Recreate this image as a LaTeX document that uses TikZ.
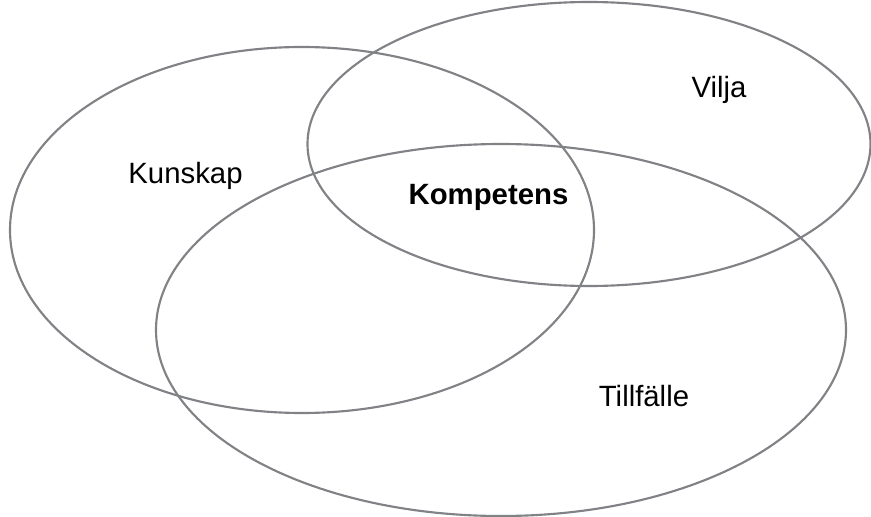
\documentclass[tikz,border=0pt]{standalone}
\usepackage{fontspec}
\setmainfont{Liberation Sans}
\definecolor{ringgray}{RGB}{128,130,134}
\begin{document}
\begin{tikzpicture}[x=0.75pt,y=-0.75pt,
  ring/.style={draw=ringgray,line width=1.6pt},
  lbl/.style={font=\fontsize{22}{24}\selectfont,inner sep=0pt}]
\useasboundingbox (0,0) rectangle (871,517);
\draw[ring] (302,230) ellipse [x radius=292, y radius=183];
\draw[ring] (589,144) ellipse [x radius=281.5, y radius=142];
\draw[ring] (501,330) ellipse [x radius=345, y radius=186];
\node[lbl] (kunskap) at (185.5,176) {Kunskap};
\node[lbl,font=\fontsize{22}{24}\selectfont\bfseries] (kompetens) at (488.5,197) {Kompetens};
\node[lbl] (vilja) at (719,90) {Vilja};
\node[lbl] (tillfalle) at (644,396) {Tillfälle};
\end{tikzpicture}
\end{document}
